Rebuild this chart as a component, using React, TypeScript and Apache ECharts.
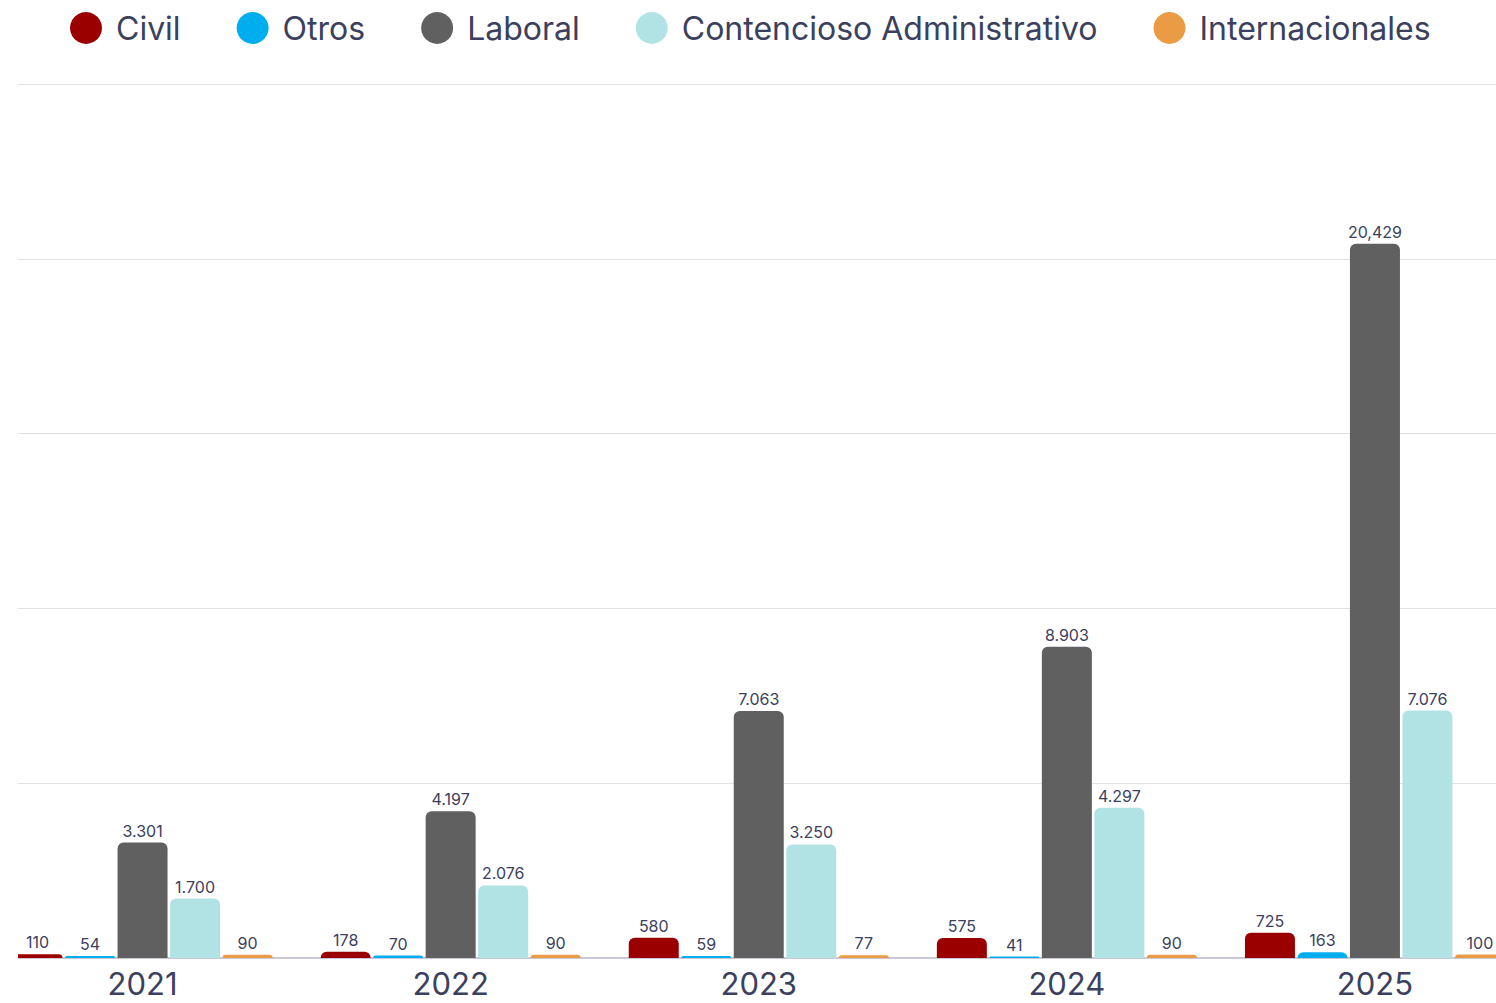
import React, { useEffect, useRef } from "react";
import * as echarts from "echarts";

const years = ["2021", "2022", "2023", "2024", "2025"];
const civil = [110, 178, 580, 575, 725];
const otros = [54, 70, 59, 41, 163];
const laboral = [3301, 4197, 7063, 8903, 20429];
const contencioso = [1700, 2076, 3250, 4297, 7076];
const internacionales = [90, 90, 77, 90, 100];

const civilLabels = ["110", "178", "580", "575", "725"];
const otrosLabels = ["54", "70", "59", "41", "163"];
const laboralLabels = ["3.301", "4.197", "7.063", "8.903", "20,429"];
const contenciosoLabels = ["1.700", "2.076", "3.250", "4.297", "7.076"];
const internacionalesLabels = ["90", "90", "77", "90", "100"];

const seriesDefs = [
  { name: "Civil", data: civil, labels: civilLabels, color: "#9b0000" },
  { name: "Otros", data: otros, labels: otrosLabels, color: "#00aeef" },
  { name: "Laboral", data: laboral, labels: laboralLabels, color: "#606060" },
  { name: "Contencioso Administrativo", data: contencioso, labels: contenciosoLabels, color: "#b2e3e4" },
  { name: "Internacionales", data: internacionales, labels: internacionalesLabels, color: "#eb9b43" },
];

const FONT = "Inter, 'Noto Sans', sans-serif";
const TEXT = "#3b405e";

export default function App() {
  const ref = useRef<HTMLDivElement>(null);
  useEffect(() => {
    if (!ref.current) return;
    const chart = echarts.init(ref.current, null, { renderer: "svg" });
    chart.setOption({
      animation: false,
      textStyle: { fontFamily: FONT },
      legend: {
        left: 95,
        top: 7,
        icon: "circle",
        itemWidth: 32,
        itemHeight: 32,
        itemGap: 56,
        textStyle: { fontSize: 32, color: TEXT, fontFamily: FONT, padding: [0, 0, 0, 9] },
        data: seriesDefs.map((s) => s.name),
      },
      grid: { left: 18.5, right: 41, top: 84, bottom: 45 },
      xAxis: {
        type: "category",
        data: years,
        axisLine: { lineStyle: { color: "#c9c7d8", width: 2 } },
        axisTick: { show: false },
        axisLabel: { fontSize: 31, lineHeight: 31, color: TEXT, fontFamily: FONT, margin: 10 },
      },
      yAxis: {
        type: "value",
        min: 0,
        max: 25000,
        interval: 5000,
        axisLabel: { show: false },
        axisLine: { show: false },
        axisTick: { show: false },
        splitLine: { lineStyle: { color: "#e2e2e2", width: 1 } },
      },
      series: seriesDefs.map((s) => ({
        name: s.name,
        type: "bar",
        data: s.data,
        barWidth: 50,
        barGap: "5%",
        itemStyle: { color: s.color, borderRadius: [6, 6, 0, 0] },
        label: {
          show: true,
          position: "top",
          distance: 4,
          fontSize: 16,
          color: TEXT,
          fontFamily: FONT,
          formatter: (p: any) => s.labels[p.dataIndex],
        },
      })),
    });
    return () => chart.dispose();
  }, []);
  return (
    <div
      style={{
        position: "absolute",
        left: 18,
        top: 0,
        width: 1478,
        height: 1003,
        overflow: "hidden",
        background: "#fff",
      }}
    >
      <div
        ref={ref}
        style={{ position: "absolute", left: -48, top: 0, width: 1600, height: 1003 }}
      />
    </div>
  );
}
